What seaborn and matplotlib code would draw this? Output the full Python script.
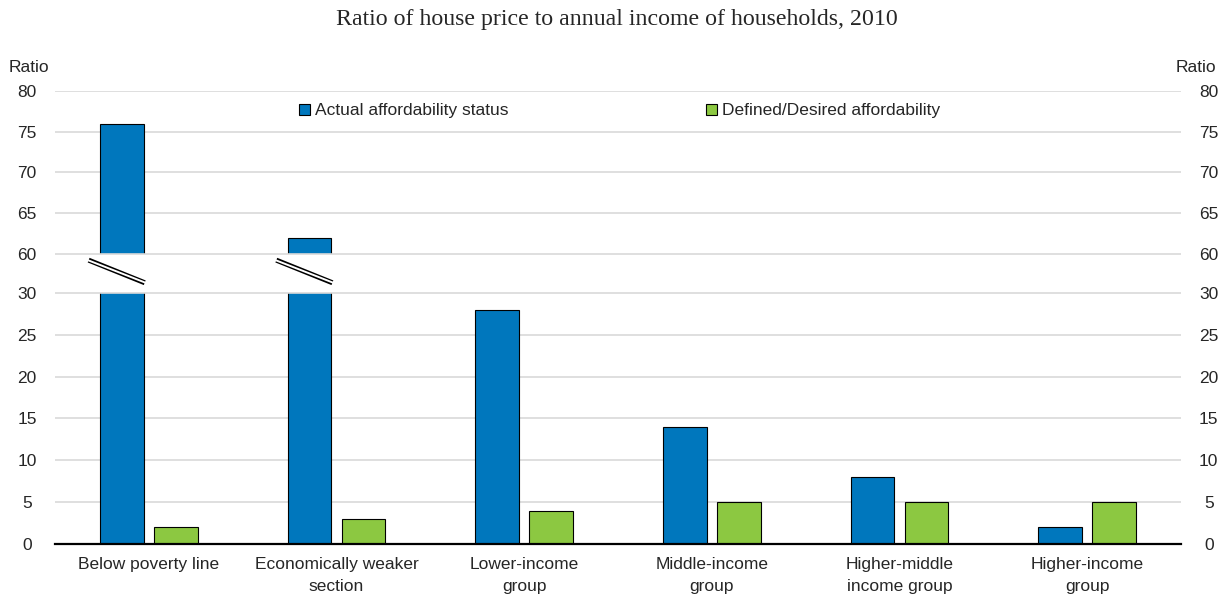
import matplotlib
matplotlib.use("Agg")
import matplotlib.pyplot as plt
import seaborn as sns
import pandas as pd
import numpy as np

# data
categories = ["Below poverty line", "Economically weaker\nsection", "Lower-income\ngroup",
              "Middle-income\ngroup", "Higher-middle\nincome group", "Higher-income\ngroup"]
series_names = ["Actual affordability status", "Defined/Desired affordability"]
actual = [76, 62, 28, 14, 8, 2]
desired = [2, 3, 4, 5, 5, 5]
lower_ticks = [0, 5, 10, 15, 20, 25, 30]
upper_ticks = [60, 65, 70, 75, 80]

BLUE = "#0077BD"
GREEN = "#8CC841"
GRID = "#D9D9D9"

# broken axis: 0-30 shown as is, 60-80 squeezed on top
BREAK_LO, BREAK_HI = 30, 60
UPPER_START, UPPER_SCALE = 34.65, 0.9725


def to_axis(v):
    if v <= BREAK_LO:
        return v
    return UPPER_START + (v - BREAK_HI) * UPPER_SCALE


df = pd.DataFrame({
    "category": categories * 2,
    "series": [series_names[0]] * len(categories) + [series_names[1]] * len(categories),
    "value": actual + desired,
})
df["plot_value"] = df["value"].apply(to_axis)

sns.set_style("white")
plt.rcParams["font.family"] = ["Liberation Sans", "DejaVu Sans"]

fig = plt.figure(figsize=(12.25, 5.98), dpi=100)
ax = fig.add_axes([55 / 1225, 1 - 544 / 598, (1181 - 55) / 1225, (544 - 91) / 598])

sns.barplot(data=df, x="category", y="plot_value", hue="series", order=categories,
            hue_order=series_names, palette=[BLUE, GREEN], width=0.575, gap=0.186,
            edgecolor="black", linewidth=0.8, saturation=1, ax=ax, zorder=2)

ymax = to_axis(80)
ax.set_xlim(-0.5, len(categories) - 0.5)
ax.set_ylim(0, ymax)

# gridlines
for t in lower_ticks[1:-1] + upper_ticks[1:]:
    ax.axhline(to_axis(t), color=GRID, lw=1.2, zorder=0.5)

# white gap for the axis break
ax.axhspan(to_axis(BREAK_LO), to_axis(BREAK_HI), color="white", zorder=3, lw=0)
for t in [BREAK_LO, BREAK_HI]:
    ax.axhline(to_axis(t), color=GRID, lw=1.2, zorder=4)

# break marks on the cut bars
blue_bars = ax.containers[0]
for bar, v in zip(blue_bars, actual):
    if v > BREAK_LO:
        x0 = bar.get_x() - 0.06
        x1 = bar.get_x() + bar.get_width() + 0.005
        y0 = to_axis(BREAK_LO) + 3.9
        y1 = to_axis(BREAK_LO) + 1.2
        ax.plot([x0, x1], [y0, y1], color="black", lw=3.6, zorder=5, solid_capstyle="butt")
        ax.plot([x0 - 0.01, x1 + 0.01], [y0 + 0.05, y1 - 0.05], color="white", lw=1.4, zorder=6,
                solid_capstyle="butt")

# axes styling
for s in ["top", "left", "right"]:
    ax.spines[s].set_visible(False)
ax.spines["bottom"].set_color("black")
ax.spines["bottom"].set_linewidth(1.6)
ax.spines["bottom"].set_zorder(7)

ytick_pos = [to_axis(t) for t in lower_ticks + upper_ticks]
ytick_lab = [str(t) for t in lower_ticks + upper_ticks]
ax.set_yticks(ytick_pos)
ax.set_yticklabels(ytick_lab)
ax.tick_params(axis="y", length=0, pad=20, labelsize=12.5, labelleft=True, labelright=True)
for tick in ax.yaxis.get_major_ticks():
    tick.label1.set_horizontalalignment("center")
    tick.label2.set_horizontalalignment("center")

ax.set_xticks(range(len(categories)))
ax.set_xticklabels(categories, linespacing=1.6)
ax.tick_params(axis="x", length=0, pad=9.5, labelsize=12.5)
ax.set_xticks(np.arange(-0.5, len(categories)), minor=True)
ax.tick_params(axis="x", which="minor", direction="in", length=5, width=1.4, color="black")

ax.set_xlabel("")
ax.set_ylabel("")

# legend
handles, labels = ax.get_legend_handles_labels()
ax.legend(handles, labels, ncol=2, frameon=False, fontsize=12.5, loc="center left",
          bbox_to_anchor=(299 / 1225, 1 - 111 / 598), bbox_transform=fig.transFigure,
          borderpad=0, borderaxespad=0, handlelength=0.62, handleheight=0.62,
          handletextpad=0.3, columnspacing=11.37)

fig.text(617 / 1225, 1 - 20 / 598, "Ratio of house price to annual income of households, 2010",
         ha="center", va="center", fontsize=17.2, family=["Liberation Serif", "DejaVu Serif"])
fig.text(29 / 1225, 1 - 67 / 598, "Ratio", ha="center", va="center", fontsize=12.5)
fig.text(1196 / 1225, 1 - 67 / 598, "Ratio", ha="center", va="center", fontsize=12.5)

fig.savefig("out.png", dpi=100)
